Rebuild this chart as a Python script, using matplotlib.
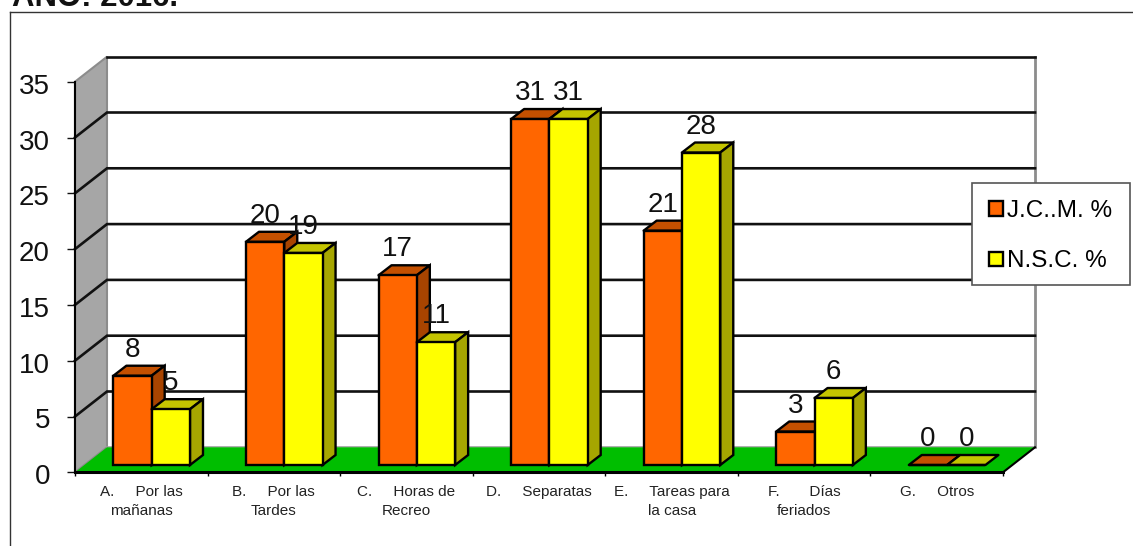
import matplotlib
matplotlib.use("Agg")
import matplotlib.pyplot as plt
from matplotlib.patches import Polygon, Rectangle
from matplotlib.transforms import ScaledTranslation

plt.rcParams["font.family"] = ["Liberation Sans", "DejaVu Sans"]

categories = [
    "A.     Por las\nmañanas",
    "B.     Por las\nTardes",
    "C.     Horas de\nRecreo",
    "D.     Separatas",
    "E.     Tareas para\n        la casa",
    "F.       Días\nferiados",
    "G.     Otros",
]
jcm = [8, 20, 17, 31, 21, 3, 0]
nsc = [5, 19, 11, 31, 28, 6, 0]
y_ticks = [0, 5, 10, 15, 20, 25, 30, 35]

ORANGE = ("#FF6600", "#C45000", "#A84400")
YELLOW = ("#FFFF00", "#C4C400", "#A6A600")

W, H = 1133, 546
X0, X1 = 75, 1003
Y0, Y35 = 472.3, 81.7

fig = plt.figure(figsize=(W / 100, H / 100), dpi=100)
ax = fig.add_axes([X0 / W, 1 - Y0 / H, (X1 - X0) / W, (Y0 - Y35) / H])
ax.set_xlim(0, len(categories))
ax.set_ylim(0, 35)
ax.patch.set_visible(False)

# pixels -> data units for the fake 3D offsets
px = len(categories) / (X1 - X0)
py = 35 / (Y0 - Y35)
dx, dy = 32 * px, 25 * py
bar_w = 38.3 * px
bar_dx, bar_dy = 13 * px, 10 * py
base_dx, base_dy = 10.4 * px, 7.3 * py
n = len(categories)

# walls and floor
ax.add_patch(Polygon([(0, 0), (dx, dy), (dx, 35 + dy), (0, 35)], fc="#A6A6A6",
                     ec="#8C8C8C", lw=1.5, clip_on=False, zorder=1))
ax.add_patch(Polygon([(0, 0), (n, 0), (n + dx, dy), (dx, dy)], fc="#00BE00",
                     ec="none", clip_on=False, zorder=1.2))
ax.plot([dx, n + dx], [dy, dy], color="#A0A0A0", lw=1.2, clip_on=False, zorder=1.1)
ax.plot([n, n + dx], [0, dy], color="black", lw=1.5, clip_on=False, zorder=2)
ax.plot([n + dx, n + dx], [dy, 35 + dy], color="#8C8C8C", lw=2, clip_on=False, zorder=1.5)

# grid runs across the left wall and along the back, the top one only along the back
for v in y_ticks[1:-1]:
    ax.plot([0, dx, n + dx], [v, v + dy, v + dy], color="#111111", lw=1.9,
            clip_on=False, solid_joinstyle="miter", zorder=2)
ax.plot([dx, n + dx], [35 + dy, 35 + dy], color="#111111", lw=1.9, clip_on=False, zorder=2)


def draw_bar(x, val, cols):
    bottom = base_dy
    top = bottom + val
    ax.add_patch(Polygon([(x, top), (x + bar_w, top), (x + bar_w + bar_dx, top + bar_dy),
                          (x + bar_dx, top + bar_dy)], fc=cols[1], ec="black", lw=1.7,
                         clip_on=False, zorder=5, joinstyle="round"))
    if val > 0:
        ax.add_patch(Polygon([(x + bar_w, bottom), (x + bar_w + bar_dx, bottom + bar_dy),
                              (x + bar_w + bar_dx, top + bar_dy), (x + bar_w, top)],
                             fc=cols[2], ec="black", lw=1.7, clip_on=False, zorder=5))
    return ax.bar(x, val, bar_w, bottom=bottom, align="edge", color=cols[0], edgecolor="black",
                  linewidth=1.7, clip_on=False, zorder=5)


handles = []
for i in range(n):
    x = i + base_dx + (1 - 2 * bar_w) / 2
    h1 = draw_bar(x, jcm[i], ORANGE)
    h2 = draw_bar(x + bar_w, nsc[i], YELLOW)
    ax.text(x + bar_w / 2, base_dy + jcm[i] + 26 * py, str(jcm[i]), ha="center", va="center",
            fontsize=20, color="#111111", zorder=6)
    ax.text(x + bar_w * 1.5, base_dy + nsc[i] + 26 * py, str(nsc[i]), ha="center", va="center",
            fontsize=20, color="#111111", zorder=6)
    handles = [h1, h2]

# axes
for s in ["top", "right"]:
    ax.spines[s].set_visible(False)
ax.spines["left"].set_linewidth(1.5)
ax.spines["left"].set_zorder(4)
ax.spines["bottom"].set_linewidth(2.2)
ax.spines["bottom"].set_zorder(4)
ax.set_yticks(y_ticks)
ax.tick_params(axis="y", labelsize=20, length=6, width=1, pad=12, colors="#111111")
# tick numbers sit a little below their ticks in the original
shift = ScaledTranslation(0, -2 / 100, fig.dpi_scale_trans)
for lab in ax.get_yticklabels():
    lab.set_transform(lab.get_transform() + shift)
ax.set_xticks(range(n + 1))
ax.tick_params(axis="x", which="major", length=3, width=1, labelbottom=False)
ax.set_xticks([i + 0.5 for i in range(n)], minor=True)
ax.set_xticklabels(categories, minor=True, fontsize=11, linespacing=1.38, color="#222222")
ax.tick_params(axis="x", which="minor", length=0, pad=9.5)
for lab in ax.get_xticklabels(minor=True):
    if lab.get_text().startswith("E."):
        lab.set_multialignment("left")

fig.add_artist(Rectangle((972 / W, 1 - 285 / H), 158 / W, 102 / H, transform=fig.transFigure,
                         fc="white", ec="#555555", lw=1.2, zorder=9))
leg = fig.legend(handles, ["J.C..M. %", "N.S.C. %"], loc="upper left",
                 bbox_to_anchor=(972 / W, 1 - 183 / H), fontsize=17.5, frameon=False,
                 handlelength=0.58, handleheight=0.55,
                 handletextpad=0.16, labelspacing=1.17, borderpad=0.7, borderaxespad=0)
leg.set_zorder(10)

# outer chart frame, open to the bottom and right as cropped
fig.add_artist(plt.Line2D([10.5 / W, 10.5 / W], [0, 1 - 11.5 / H], color="#333333", lw=1))
fig.add_artist(plt.Line2D([10.5 / W, 1], [1 - 11.5 / H, 1 - 11.5 / H], color="#333333", lw=1))
fig.text(12 / W, 1 - 6 / H, "AÑO: 2016.", fontsize=22.4, fontweight="bold", va="baseline",
         ha="left", color="#111111")

fig.savefig("out.png", dpi=100)
